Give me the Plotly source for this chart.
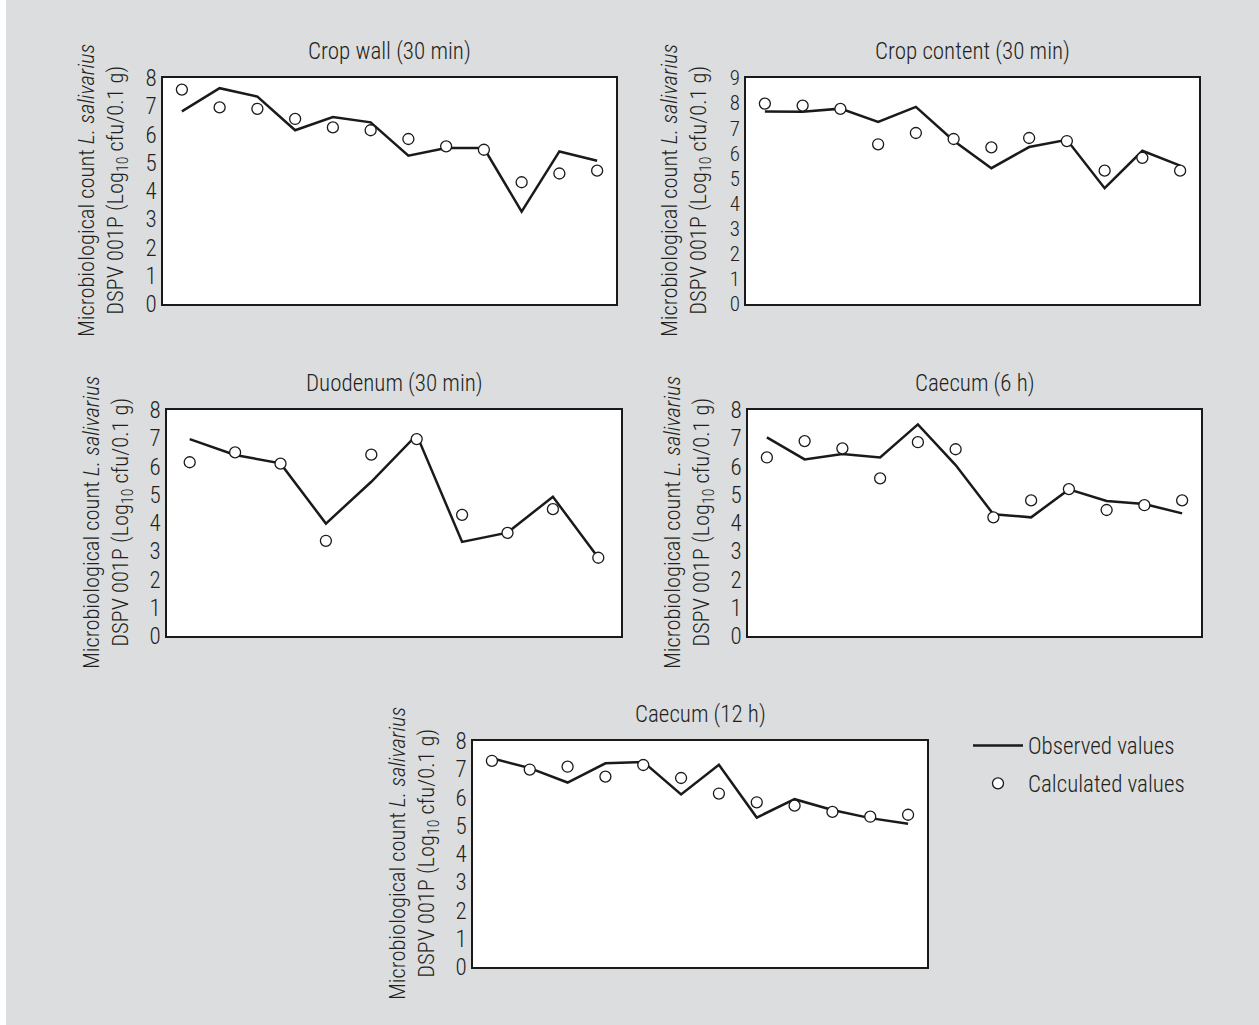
import plotly.graph_objects as go

# ---------------- data ----------------
titles = ["Crop wall (30 min)", "Crop content (30 min)", "Duodenum (30 min)",
          "Caecum (6 h)", "Caecum (12 h)"]

crop_wall_obs = [6.82, 7.64, 7.34, 6.15, 6.62, 6.43, 5.25, 5.52, 5.52, 3.27, 5.40, 5.07]
crop_wall_calc = [7.59, 6.96, 6.91, 6.55, 6.25, 6.15, 5.84, 5.58, 5.46, 4.31, 4.62, 4.72]

crop_content_obs = [7.67, 7.66, 7.78, 7.25, 7.85, 6.50, 5.41, 6.25, 6.54, 4.61, 6.10, 5.51]
crop_content_calc = [7.98, 7.90, 7.77, 6.36, 6.81, 6.57, 6.24, 6.61, 6.49, 5.31, 5.82, 5.31]

duodenum_obs = [6.97, 6.41, 6.11, 3.98, 5.46, 7.12, 3.33, 3.66, 4.93, 2.77]
duodenum_calc = [6.15, 6.50, 6.10, 3.37, 6.42, 6.97, 4.29, 3.65, 4.49, 2.77]

caecum6_obs = [7.03, 6.25, 6.44, 6.32, 7.49, 6.05, 4.31, 4.20, 5.19, 4.78, 4.67, 4.34]
caecum6_calc = [6.32, 6.90, 6.64, 5.58, 6.86, 6.61, 4.20, 4.80, 5.20, 4.46, 4.63, 4.80]

caecum12_obs = [7.39, 7.04, 6.53, 7.21, 7.26, 6.11, 7.16, 5.29, 5.94, 5.56, 5.27, 5.07]
caecum12_calc = [7.30, 6.99, 7.09, 6.74, 7.15, 6.69, 6.14, 5.83, 5.71, 5.49, 5.32, 5.39]

y_max = [8, 9, 8, 8, 8]

# ---------------- layout geometry (pixels) ----------------
W, H = 1259, 1025
boxes = [  # x0, x1, y0(top), y1(bottom)
    (163, 616, 78, 304),
    (746, 1199, 78, 304),
    (167, 621, 410, 636),
    (748, 1201, 410, 636),
    (473, 927, 741, 967),
]

FONT = "Roboto Condensed, Liberation Sans Narrow, Arial Narrow, sans-serif"
TXT = "#231f20"
WEIGHT = 300

series = [
    (crop_wall_obs, crop_wall_calc),
    (crop_content_obs, crop_content_calc),
    (duodenum_obs, duodenum_calc),
    (caecum6_obs, caecum6_calc),
    (caecum12_obs, caecum12_calc),
]

fig = go.Figure()
annotations = []
layout = {}

for i, ((obs, calc), box, ttl, ym) in enumerate(zip(series, boxes, titles, y_max)):
    n = len(obs)
    xs = list(range(1, n + 1))
    ax = "" if i == 0 else str(i + 1)
    xa, ya = "x" + ax, "y" + ax
    fig.add_trace(go.Scatter(
        x=xs, y=obs, mode="lines", xaxis=xa, yaxis=ya,
        line=dict(color="#1a1a1a", width=2.5),
        name="Observed values", showlegend=(i == 0), legendgroup="obs"))
    fig.add_trace(go.Scatter(
        x=xs, y=calc, mode="markers", xaxis=xa, yaxis=ya,
        marker=dict(symbol="circle", size=11, color="white",
                    line=dict(color="#1a1a1a", width=1.3)),
        name="Calculated values", showlegend=(i == 0), legendgroup="calc"))
    x0, x1, y0, y1 = box
    layout["xaxis" + ax] = dict(
        domain=[x0 / W, x1 / W], range=[0.5, n + 0.5], anchor=ya,
        showticklabels=False, ticks="", showgrid=False, zeroline=False,
        automargin=False,
        showline=True, mirror=True, linecolor="#1a1a1a", linewidth=1.5)
    layout["yaxis" + ax] = dict(
        domain=[1 - y1 / H, 1 - y0 / H], range=[0, ym], anchor=xa,
        dtick=1, tick0=0, showgrid=False, zeroline=False, ticks="",
        automargin=False,
        showline=True, mirror=True, linecolor="#1a1a1a", linewidth=1.5,
        tickfont=dict(family=FONT, size=(21 if ym == 9 else 23), color=TXT, weight=WEIGHT))
    # panel title
    annotations.append(dict(
        text=ttl, x=(x0 + x1) / 2 / W, y=1 - (y0 - 11) / H, xref="paper", yref="paper",
        xanchor="center", yanchor="bottom", showarrow=False,
        font=dict(family=FONT, size=23, color=TXT, weight=WEIGHT)))
    # y-axis title (two rotated lines)
    annotations.append(dict(
        text="Microbiological count <i>L. salivarius</i><br>DSPV 001P (Log<sub>10</sub> cfu/0.1 g)",
        x=(x0 - 60) / W, y=1 - ((y0 + y1) / 2) / H, xref="paper", yref="paper",
        xanchor="center", yanchor="middle", textangle=-90, showarrow=False,
        font=dict(family=FONT, size=22.5, color=TXT, weight=WEIGHT)))

fig.update_layout(
    width=W, height=H, margin=dict(l=0, r=0, t=0, b=0, autoexpand=False),
    paper_bgcolor="#dcdddf", plot_bgcolor="white",
    annotations=annotations,
    shapes=[dict(type="rect", xref="paper", yref="paper", x0=0, x1=6 / W, y0=0, y1=1,
                 fillcolor="white", line=dict(width=0), layer="below")],
    legend=dict(x=968 / W, y=1 - 724 / H, xanchor="left", yanchor="top",
                bgcolor="rgba(0,0,0,0)",
                font=dict(family=FONT, size=23, color=TXT, weight=WEIGHT),
                tracegroupgap=5, itemwidth=50),
    **layout,
)

fig.write_html("out.html")
